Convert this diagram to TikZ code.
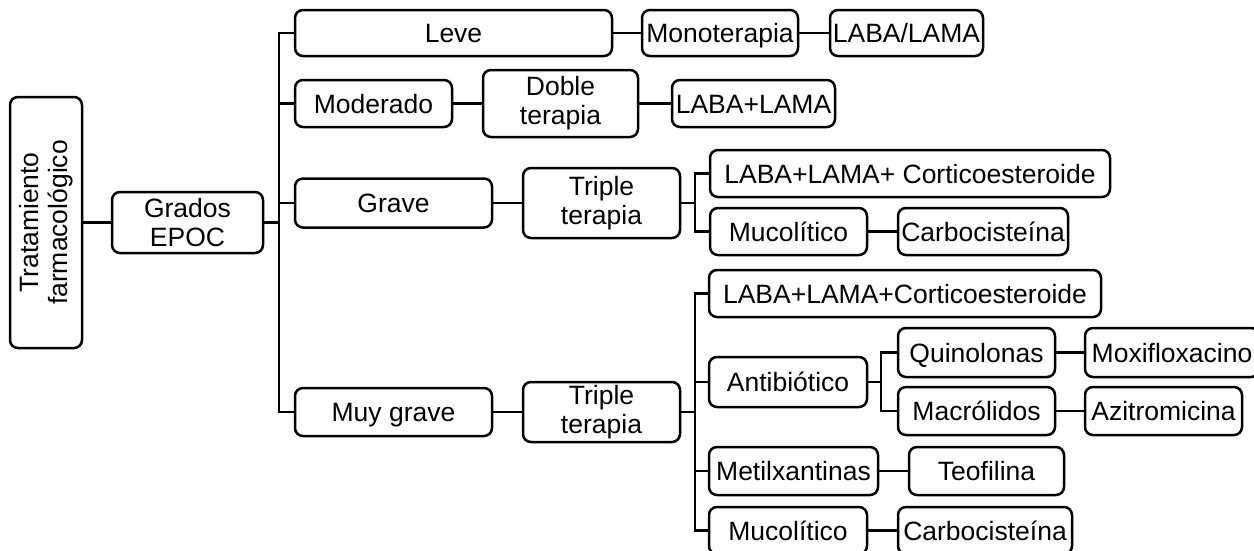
\documentclass[tikz,border=0pt]{standalone}
\usepackage{fontspec}
\setmainfont{Liberation Sans}
\begin{document}
\begin{tikzpicture}[x=1pt,y=-1pt,
  box/.style={draw, rounded corners=8pt, line width=2.5pt, inner sep=0pt,
    align=center, font=\fontsize{26.5}{29}\selectfont},
  sbox/.style={box, text height=19pt, text depth=0pt},
  link/.style={line width=2.3pt}]
\useasboundingbox (0,0) rectangle (1254,550);

% root and first level
\node[box, rotate=90, minimum width=251, minimum height=72] (trat) at (46,222.5) {Tratamiento\\farmacológico};
\node[box, minimum width=151, minimum height=61] (grados) at (187.5,222.5) {Grados\\EPOC};

% grades
\node[sbox, minimum width=317, minimum height=46] (leve) at (453.5,33) {Leve};
\node[sbox, minimum width=157, minimum height=47] (moderado) at (373.5,103.5) {Moderado};
\node[sbox, minimum width=197, minimum height=49] (grave) at (393.5,203) {Grave};
\node[sbox, minimum width=197, minimum height=48] (muygrave) at (393.5,412) {Muy grave};

% leve
\node[sbox, minimum width=156, minimum height=46] (mono) at (720,33) {Monoterapia};
\node[sbox, minimum width=153, minimum height=46] (labalama) at (906.5,33) {LABA/LAMA};

% moderado
\node[box, minimum width=155, minimum height=67] (doble) at (560.5,103.5) {Doble\\terapia};
\node[sbox, minimum width=163, minimum height=47] (labapluslama) at (753.5,103.5) {LABA+LAMA};

% grave
\node[box, minimum width=157, minimum height=70] (tripleA) at (601.5,203) {Triple\\terapia};
\node[sbox, minimum width=400, minimum height=47] (lmcA) at (910,173.5) {LABA+LAMA+ Corticoesteroide};
\node[sbox, minimum width=157, minimum height=47] (mucoA) at (788.5,231.5) {Mucolítico};
\node[sbox, minimum width=170, minimum height=47] (carboA) at (983,231.5) {Carbocisteína};

% muy grave
\node[box, minimum width=157, minimum height=60] (tripleB) at (601.5,412) {Triple\\terapia};
\node[sbox, minimum width=392, minimum height=47] (lmcB) at (905,293.5) {LABA+LAMA+Corticoesteroide};
\node[sbox, minimum width=158, minimum height=50] (antib) at (788,382) {Antibiótico};
\node[sbox, minimum width=157, minimum height=49] (quino) at (976.5,352.5) {Quinolonas};
\node[sbox, minimum width=174, minimum height=49] (moxi) at (1172,352.5) {Moxifloxacino};
\node[sbox, minimum width=157, minimum height=48] (macro) at (976.5,411) {Macrólidos};
\node[sbox, minimum width=157, minimum height=48] (azi) at (1163.5,411) {Azitromicina};
\node[sbox, minimum width=169, minimum height=48] (metil) at (793.5,471) {Metilxantinas};
\node[sbox, minimum width=155, minimum height=48] (teo) at (986.5,471) {Teofilina};
\node[sbox, minimum width=158, minimum height=47] (mucoB) at (788,530.5) {Mucolítico};
\node[sbox, minimum width=174, minimum height=47] (carboB) at (985,530.5) {Carbocisteína};

% branching points
\coordinate (tk) at (279,222.5);
\coordinate (sA) at (695,203);
\coordinate (sB) at (695,412);
\coordinate (sC) at (881,382);

% connectors
\draw[link] (trat.south) -- (grados.west);
\draw[link, line width=3.2pt] (grados.east) -- (tk);
\draw[link] (tk) |- (leve.west);
\draw[link] (tk) |- (moderado.west);
\draw[link] (tk) |- (grave.west);
\draw[link] (tk) |- (muygrave.west);

\draw[link] (leve) -- (mono);
\draw[link] (mono) -- (labalama);
\draw[link] (moderado) -- (doble);
\draw[link] (doble) -- (labapluslama);

\draw[link] (grave) -- (tripleA);
\draw[link] (tripleA.east) -- (sA);
\draw[link] (sA) |- (lmcA.west);
\draw[link] (sA) |- (mucoA.west);
\draw[link] (mucoA) -- (carboA);

\draw[link] (muygrave) -- (tripleB);
\draw[link] (tripleB.east) -- (sB);
\draw[link] (sB) |- (lmcB.west);
\draw[link] (sB) |- (antib.west);
\draw[link] (sB) |- (metil.west);
\draw[link] (sB) |- (mucoB.west);
\draw[link] (antib.east) -- (sC);
\draw[link] (sC) |- (quino.west);
\draw[link] (sC) |- (macro.west);
\draw[link] (quino) -- (moxi);
\draw[link] (macro) -- (azi);
\draw[link] (metil) -- (teo);
\draw[link] (mucoB) -- (carboB);
\end{tikzpicture}
\end{document}
